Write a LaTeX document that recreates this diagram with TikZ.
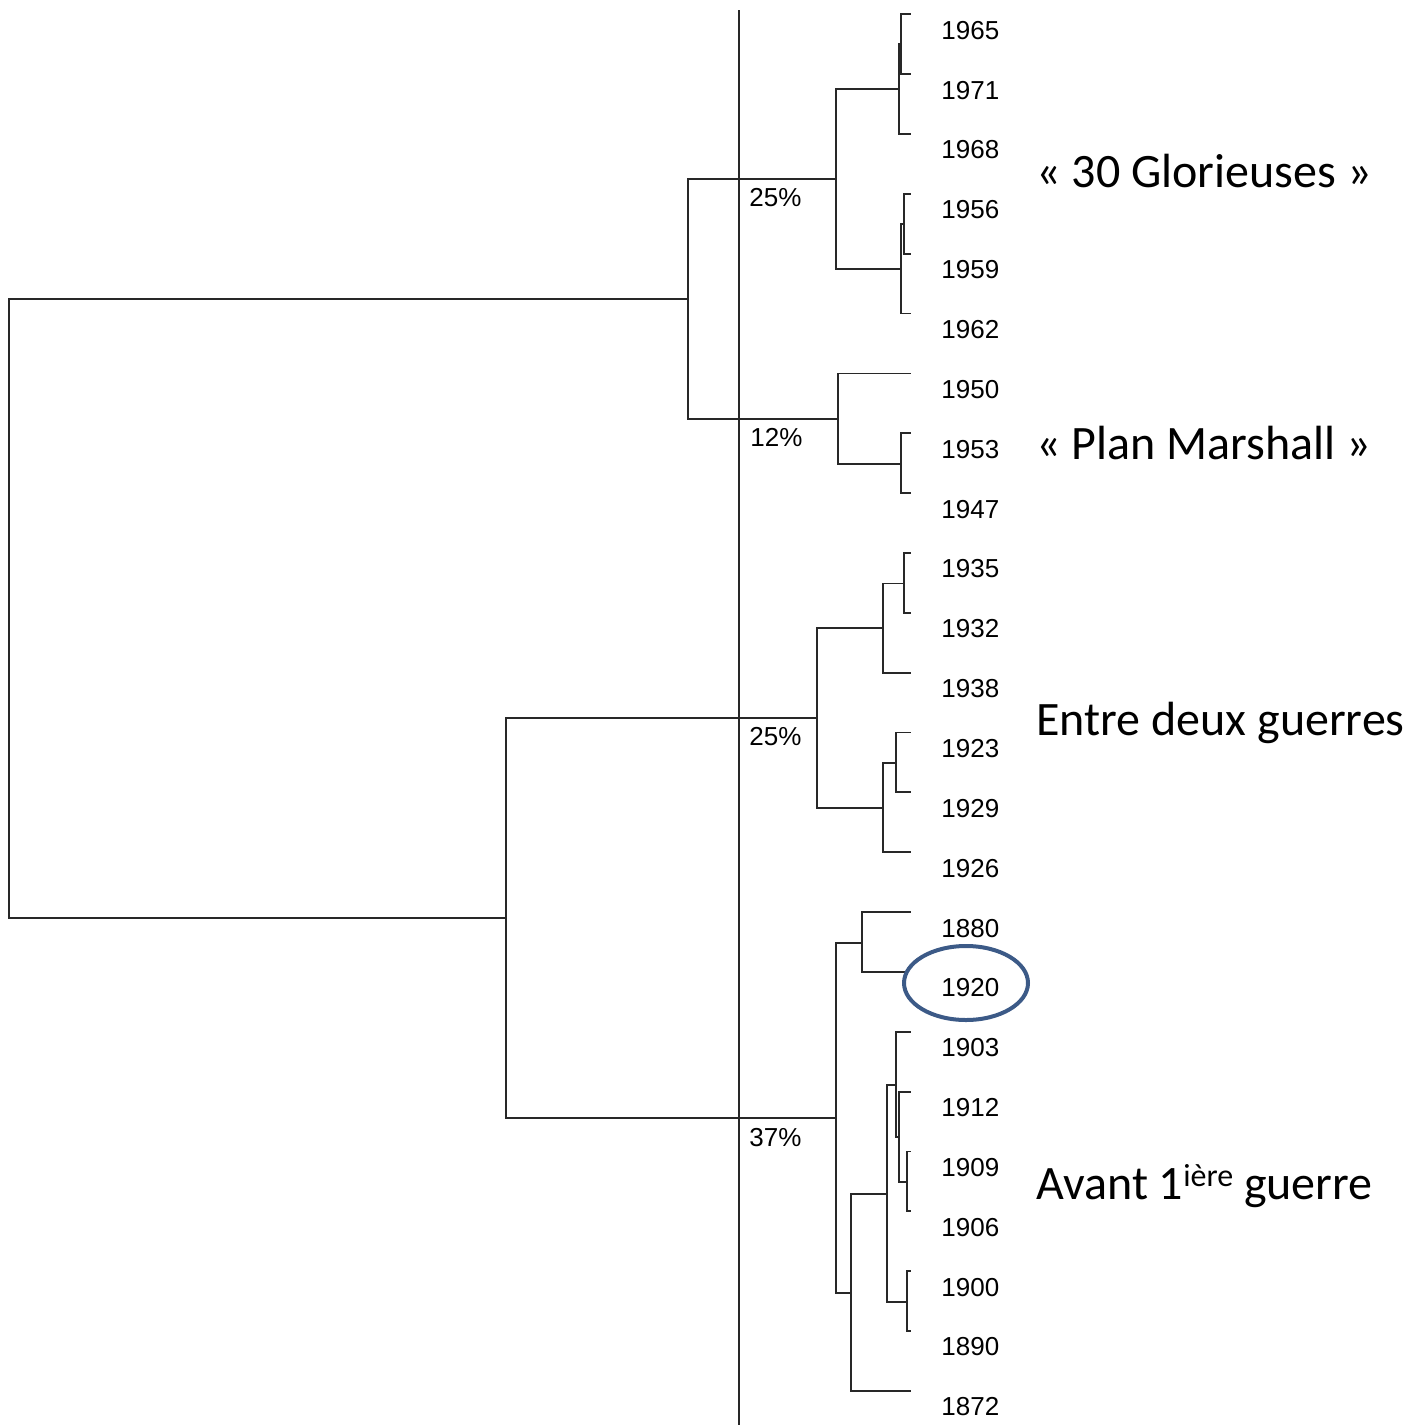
\documentclass[tikz,border=0pt]{standalone}
\usepackage{fontspec}
\setmainfont{Carlito}
\newfontfamily\arialf{Liberation Sans}
\usetikzlibrary{shapes.geometric}
\definecolor{treeline}{RGB}{40,40,40}
\definecolor{ringblue}{RGB}{60,90,135}
\begin{document}
\begin{tikzpicture}[x=0.5pt,y=-0.5pt,
  branch/.style={draw=treeline,line width=0.9pt},
  cutline/.style={draw=treeline,line width=0.9pt},
  leaflabel/.style={anchor=west,inner sep=0pt,font=\arialf\fontsize{13}{15}\selectfont},
  pctlabel/.style={anchor=west,inner sep=0pt,font=\arialf\fontsize{13}{15}\selectfont},
  grouplabel/.style={anchor=base west,inner sep=0pt,font=\fontsize{24}{28}\selectfont},
  ring/.style={ellipse,draw=ringblue,line width=2pt,minimum width=62pt,minimum height=37pt,inner sep=0pt}]
\useasboundingbox (0,0) rectangle (1414,1425);
% leaves
\foreach \lab [count=\i from 0] in {1965,1971,1968,1956,1959,1962,1950,1953,1947,1935,1932,1938,1923,1929,1926,1880,1920,1903,1912,1909,1906,1900,1890,1872}{
  \coordinate (L\lab) at (911,{14.3+59.85*\i});
  \node[leaflabel] (T\lab) at (941,{30.3+59.85*\i}) {\lab};
}
\coordinate (L1920) at (905,{14.3+59.85*16});
% internal nodes
\coordinate (a) at (901,44.3);
\coordinate (b) at (898.7,89.2);
\coordinate (c) at (903.7,224);
\coordinate (d) at (901.3,268.8);
\coordinate (e) at (835.7,179);
\coordinate (f) at (901.3,463.7);
\coordinate (g) at (837.7,418.7);
\coordinate (h) at (688.3,298.9);
\coordinate (i) at (904.3,583.4);
\coordinate (j) at (883,628.3);
\coordinate (k) at (896,763.3);
\coordinate (l) at (883.3,808.3);
\coordinate (m) at (817.3,718.3);
\coordinate (n) at (862.3,943);
\coordinate (o) at (907.3,1182.3);
\coordinate (p) at (898.7,1137.3);
\coordinate (q) at (895.7,1085.3);
\coordinate (r) at (907.3,1302.3);
\coordinate (s) at (886.7,1193.8);
\coordinate (t) at (850.7,1292.7);
\coordinate (u) at (835.7,1117.9);
\coordinate (v) at (506,918.1);
\coordinate (w) at (9,608.5);
% branches
\draw[branch] (a) |- (L1965); \draw[branch] (a) |- (L1971);
\draw[branch] (b) |- (a); \draw[branch] (b) |- (L1968);
\draw[branch] (c) |- (L1956); \draw[branch] (c) |- (L1959);
\draw[branch] (d) |- (c); \draw[branch] (d) |- (L1962);
\draw[branch] (e) |- (b); \draw[branch] (e) |- (d);
\draw[branch] (f) |- (L1953); \draw[branch] (f) |- (L1947);
\draw[branch] (g) |- (L1950); \draw[branch] (g) |- (f);
\draw[branch] (h) |- (e); \draw[branch] (h) |- (g);
\draw[branch] (i) |- (L1935); \draw[branch] (i) |- (L1932);
\draw[branch] (j) |- (i); \draw[branch] (j) |- (L1938);
\draw[branch] (k) |- (L1923); \draw[branch] (k) |- (L1929);
\draw[branch] (l) |- (k); \draw[branch] (l) |- (L1926);
\draw[branch] (m) |- (j); \draw[branch] (m) |- (l);
\draw[branch] (n) |- (L1880); \draw[branch] (n) |- (L1920);
\draw[branch] (o) |- (L1909); \draw[branch] (o) |- (L1906);
\draw[branch] (p) |- (L1912); \draw[branch] (p) |- (o);
\draw[branch] (q) |- (L1903); \draw[branch] (q) |- (p);
\draw[branch] (r) |- (L1900); \draw[branch] (r) |- (L1890);
\draw[branch] (s) |- (q); \draw[branch] (s) |- (r);
\draw[branch] (t) |- (s); \draw[branch] (t) |- (L1872);
\draw[branch] (u) |- (n); \draw[branch] (u) |- (t);
\draw[branch] (v) |- (m); \draw[branch] (v) |- (u);
\draw[branch] (w) |- (h); \draw[branch] (w) |- (v);
% cut line
\coordinate (cuttop) at (739,10);
\coordinate (cutbot) at (739,1425);
\draw[cutline] (cuttop) -- (cutbot);
% percentages
\node[pctlabel] (p1) at (749,198) {25\%};
\node[pctlabel] (p2) at (750,437) {12\%};
\node[pctlabel] (p3) at (749,737) {25\%};
\node[pctlabel] (p4) at (749,1138) {37\%};
% group labels
\node[grouplabel] (g1) at (1036,187) {« 30 Glorieuses »};
\node[grouplabel] (g2) at (1036,459) {« Plan Marshall »};
\node[grouplabel] (g3) at (1036,735) {Entre deux guerres};
\node[grouplabel] (g4) at (1036,1199) {Avant 1\raisebox{0.55ex}{\fontsize{16}{18}\selectfont ière} guerre};
% ring
\node[ring] (ring) at (966,983) {};
\end{tikzpicture}
\end{document}
